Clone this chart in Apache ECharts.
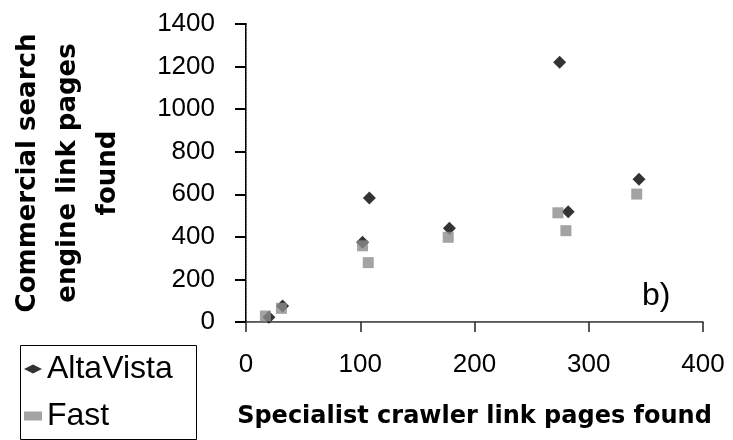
<!DOCTYPE html>
<html>
<head>
<meta charset="utf-8">
<script src="https://cdn.jsdelivr.net/npm/echarts@6/dist/echarts.min.js"></script>
<style>html,body{margin:0;padding:0;background:#fff}#c{width:733px;height:440px}</style>
</head>
<body>
<div id="c"></div>
<script>
var seriesNames = ['AltaVista', 'Fast'];
var altaVista = [[20, 22], [32, 75], [102, 375], [108, 582], [178, 440], [274.5, 1220], [282, 518], [344, 671]];
var fast = [[17, 28], [31, 64], [102, 358], [107, 279], [177, 398], [273, 513], [280, 429], [342, 601]];
var xTicks = [0, 100, 200, 300, 400];
var yTicks = [0, 200, 400, 600, 800, 1000, 1200, 1400];
var xTitle = 'Specialist crawler link pages found';
var yTitle = 'Commercial search\nengine link pages\nfound';
var panelLabel = 'b)';

var chart = echarts.init(document.getElementById('c'), null, {renderer: 'canvas'});
var plain = function (v) { return String(v); };
chart.setOption({
  animation: false,
  backgroundColor: '#fff',
  grid: {left: 243, right: 30, top: 24, bottom: 118, containLabel: false},
  legend: {
    orient: 'vertical', left: 24, top: 353,
    data: seriesNames,
    padding: 0,
    itemGap: 15,
    itemWidth: 18, itemHeight: 9,
    textStyle: {color: '#000', fontFamily: 'Liberation Sans', fontSize: 32, lineHeight: 32}
  },
  xAxis: [{
    type: 'value', min: xTicks[0], max: xTicks[xTicks.length - 1], interval: 100,
    axisLine: {show: true, onZero: false, lineStyle: {color: '#222', width: 1.5}},
    axisTick: {show: true, inside: false, length: 10, lineStyle: {color: '#222', width: 1.5}},
    axisLabel: {margin: 30, formatter: plain, color: '#000', fontFamily: 'Liberation Sans', fontSize: 26},
    splitLine: {show: false},
    name: xTitle, nameLocation: 'middle', nameGap: 83,
    nameTextStyle: {color: '#000', fontFamily: 'DejaVu Sans', fontWeight: 'bold', fontSize: 24}
  }, {
    type: 'value', position: 'top', min: 0, max: 400,
    axisLine: {show: true, lineStyle: {color: '#777', width: 1, type: 'dotted'}},
    axisTick: {show: false}, axisLabel: {show: false}, splitLine: {show: false}
  }],
  yAxis: [{
    type: 'value', min: yTicks[0], max: yTicks[yTicks.length - 1], interval: 200,
    axisLine: {show: true, onZero: false, lineStyle: {color: '#000', width: 2}},
    axisTick: {show: true, inside: false, length: 11, lineStyle: {color: '#000', width: 2}},
    axisLabel: {margin: 31, formatter: plain, color: '#000', fontFamily: 'Liberation Sans', fontSize: 26},
    splitLine: {show: false},
    name: yTitle, nameLocation: 'middle', nameGap: 118, nameRotate: 90,
    nameTextStyle: {color: '#000', fontFamily: 'DejaVu Sans', fontWeight: 'bold', fontSize: 26, lineHeight: 40, align: 'center'}
  }, {
    type: 'value', position: 'right', min: 0, max: 1400,
    axisLine: {show: true, lineStyle: {color: '#888', width: 1, type: 'dotted'}},
    axisTick: {show: false}, axisLabel: {show: false}, splitLine: {show: false}
  }],
  series: [{
    name: seriesNames[0], type: 'scatter', data: altaVista,
    symbol: 'diamond', symbolSize: 13,
    itemStyle: {color: '#000'}
  }, {
    name: seriesNames[1], type: 'scatter', data: fast,
    symbol: 'rect', symbolSize: 11,
    itemStyle: {color: '#8c8c8c'}
  }],
  graphic: [{
    type: 'rect', left: 18, top: 343,
    shape: {width: 176, height: 94},
    style: {fill: 'none', stroke: '#000', lineWidth: 1}
  }, {
    type: 'text', left: 642, top: 280,
    style: {text: panelLabel, fill: '#000', font: '32px "Liberation Sans"'}
  }]
});
</script>
</body>
</html>
